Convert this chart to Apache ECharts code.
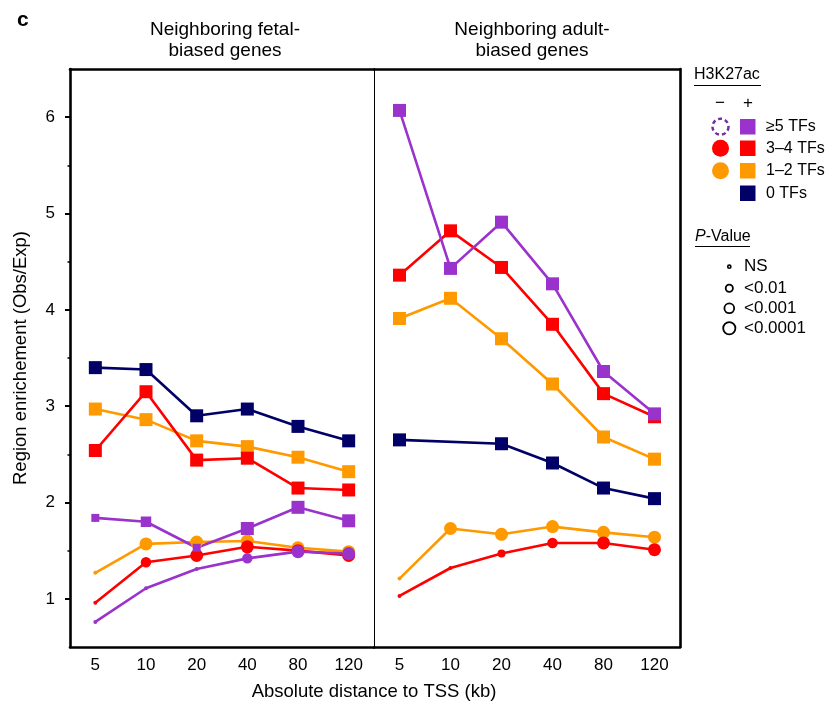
<!DOCTYPE html>
<html>
<head>
<meta charset="utf-8">
<script src="https://cdn.jsdelivr.net/npm/echarts@6/dist/echarts.min.js"></script>
<style>html,body{margin:0;padding:0;background:#fff;}#c{width:835px;height:705px;}</style>
</head>
<body>
<div id="c"></div>
<script>
// ---- data ----
const categories = ['5', '10', '20', '40', '80', '120'];
const yTickValues = [1, 2, 3, 4, 5, 6];
const yMinorTickValues = [1.5, 2.5, 3.5, 4.5, 5.5];

// Neighboring fetal-biased genes
const fetalPlus0 = [3.40, 3.38, 2.90, 2.97, 2.79, 2.64];
const fetalPlus12 = [2.97, 2.86, 2.64, 2.58, 2.47, 2.32];
const fetalPlus34 = [2.54, 3.15, 2.44, 2.46, 2.15, 2.13];
const fetalPlus5 = [1.84, 1.80, 1.53, 1.73, 1.95, 1.81];
const fetalMinus12 = [1.27, 1.57, 1.59, 1.60, 1.53, 1.49];
const fetalMinus34 = [0.96, 1.38, 1.45, 1.54, 1.50, 1.45];
const fetalMinus5 = [0.76, 1.11, 1.31, 1.42, 1.49, 1.47];

// Neighboring adult-biased genes
const adultPlus0 = [2.65, null, 2.61, 2.41, 2.15, 2.04];
const adultPlus12 = [3.91, 4.12, 3.70, 3.23, 2.68, 2.45];
const adultPlus34 = [4.36, 4.82, 4.44, 3.85, 3.13, 2.89];
const adultPlus5 = [6.07, 4.43, 4.91, 4.27, 3.36, 2.92];
const adultMinus12 = [1.21, 1.73, 1.67, 1.75, 1.69, 1.64];
const adultMinus34 = [1.03, 1.32, 1.47, 1.58, 1.58, 1.51];

// P-value class per point: 0 = NS, 1 = <0.01, 2 = <0.001, 3 = <0.0001
const pAll = [3, 3, 3, 3, 3, 3];
const fetalPlus5P = [1, 2, 1, 3, 3, 3];
const fetalMinus12P = [0, 3, 3, 3, 3, 3];
const fetalMinus34P = [0, 2, 3, 3, 3, 3];
const fetalMinus5P = [0, 0, 0, 2, 3, 3];
const adultMinus12P = [0, 3, 3, 3, 3, 3];
const adultMinus34P = [0, 0, 1, 2, 3, 3];

const pLabels = ['NS', '<0.01', '<0.001', '<0.0001'];
const tfLabels = ['≥5 TFs', '3–4 TFs', '1–2 TFs', '0 TFs'];

// ---- styles ----
const FONT = 'Liberation Sans, Arial, Helvetica, sans-serif';
const C_PURPLE = '#9933CC', C_RED = '#FF0000', C_ORANGE = '#FF9900', C_NAVY = '#000066';
const markerSize = [4, 8, 10.5, 13];

function mk(name, vals, pcls, color, symbol, panel) {
  return {
    name: name, type: 'line',
    xAxisIndex: panel === 0 ? 0 : 2,
    yAxisIndex: panel === 0 ? 0 : 2,
    data: vals,
    connectNulls: true,
    symbol: symbol,
    symbolSize: function (v, p) { return markerSize[pcls[p.dataIndex]]; },
    showAllSymbol: true,
    lineStyle: { color: color, width: 2.6 },
    itemStyle: { color: color, borderWidth: 0 },
    emphasis: { disabled: true },
    animation: false
  };
}

const series = [
  mk('fetal − 1–2', fetalMinus12, fetalMinus12P, C_ORANGE, 'circle', 0),
  mk('fetal − 3–4', fetalMinus34, fetalMinus34P, C_RED, 'circle', 0),
  mk('fetal − ≥5', fetalMinus5, fetalMinus5P, C_PURPLE, 'circle', 0),
  mk('fetal + 0', fetalPlus0, pAll, C_NAVY, 'rect', 0),
  mk('fetal + 1–2', fetalPlus12, pAll, C_ORANGE, 'rect', 0),
  mk('fetal + 3–4', fetalPlus34, pAll, C_RED, 'rect', 0),
  mk('fetal + ≥5', fetalPlus5, fetalPlus5P, C_PURPLE, 'rect', 0),
  mk('adult − 1–2', adultMinus12, adultMinus12P, C_ORANGE, 'circle', 1),
  mk('adult − 3–4', adultMinus34, adultMinus34P, C_RED, 'circle', 1),
  mk('adult + 0', adultPlus0, pAll, C_NAVY, 'rect', 1),
  mk('adult + 1–2', adultPlus12, pAll, C_ORANGE, 'rect', 1),
  mk('adult + 3–4', adultPlus34, pAll, C_RED, 'rect', 1),
  mk('adult + ≥5', adultPlus5, pAll, C_PURPLE, 'rect', 1)
];

const thick = { show: true, lineStyle: { color: '#000', width: 2.6 } };
function xAx(grid, pos, labels) {
  return {
    gridIndex: grid, type: 'category', data: categories, position: pos,
    boundaryGap: true,
    axisLine: thick, axisTick: { show: false },
    axisLabel: { show: labels, color: '#000', fontSize: 17, fontFamily: FONT, margin: 10 },
    splitLine: { show: false }
  };
}

const yBase = { min: 0.5, max: 6.5, interval: 0.5, splitLine: { show: false } };

const option = {
  backgroundColor: '#fff',
  animation: false,
  grid: [
    { left: 70, top: 69, width: 304, height: 578 },
    { left: 374, top: 69, width: 306, height: 578 }
  ],
  title: [
    { text: 'c', left: 12, top: 5, textStyle: { fontSize: 21, fontWeight: 'bold', color: '#000', fontFamily: FONT } },
    { text: 'Neighboring fetal-\nbiased genes', left: 220, top: 14, textAlign: 'center',
      textStyle: { fontSize: 19, fontWeight: 'normal', color: '#000', fontFamily: FONT, lineHeight: 21, align: 'center' } },
    { text: 'Neighboring adult-\nbiased genes', left: 527, top: 14, textAlign: 'center',
      textStyle: { fontSize: 19, fontWeight: 'normal', color: '#000', fontFamily: FONT, lineHeight: 21, align: 'center' } }
  ],
  xAxis: [xAx(0, 'bottom', true), xAx(0, 'top', false), xAx(1, 'bottom', true), xAx(1, 'top', false)],
  yAxis: [
    Object.assign({}, yBase, {
      gridIndex: 0, position: 'left',
      axisLine: thick,
      axisTick: { show: true, length: 5, customValues: yTickValues, lineStyle: { color: '#000', width: 2 } },
      axisLabel: { show: true, customValues: yTickValues, color: '#000', fontSize: 17, fontFamily: FONT, margin: 15 },
      name: 'Region enrichement (Obs/Exp)', nameLocation: 'middle', nameGap: 40, nameRotate: 90,
      nameTextStyle: { fontSize: 18.5, color: '#000', fontFamily: FONT }
    }),
    Object.assign({}, yBase, {
      gridIndex: 0, position: 'left',
      axisLine: { show: false },
      axisTick: { show: true, length: 2.5, customValues: yMinorTickValues, lineStyle: { color: '#000', width: 1.5 } },
      axisLabel: { show: false }
    }),
    Object.assign({}, yBase, {
      gridIndex: 1, position: 'left',
      axisLine: { show: true, lineStyle: { color: '#000', width: 1 } },
      axisTick: { show: false }, axisLabel: { show: false }
    }),
    Object.assign({}, yBase, {
      gridIndex: 1, position: 'right',
      axisLine: thick, axisTick: { show: false }, axisLabel: { show: false }
    })
  ],
  series: series,
  graphic: [
    { type: 'text', x: 374, y: 692, style: { text: 'Absolute distance to TSS (kb)', fill: '#000', font: '18.5px ' + FONT, align: 'center', verticalAlign: 'middle' } },
    // H3K27ac legend
    { type: 'text', x: 694, y: 74.5, style: { text: 'H3K27ac', fill: '#000', font: '16px ' + FONT, verticalAlign: 'middle' } },
    { type: 'line', shape: { x1: 694, y1: 85.5, x2: 761, y2: 85.5 }, style: { stroke: '#000', lineWidth: 1 } },
    { type: 'text', x: 720, y: 103, style: { text: '−', fill: '#000', font: '17px ' + FONT, align: 'center', verticalAlign: 'middle' } },
    { type: 'text', x: 748, y: 103, style: { text: '+', fill: '#000', font: '17px ' + FONT, align: 'center', verticalAlign: 'middle' } },
    { type: 'circle', shape: { cx: 720.5, cy: 126.7, r: 8 }, style: { fill: 'none', stroke: '#7030A0', lineWidth: 2.5, lineDash: [4, 3] } },
    { type: 'rect', shape: { x: 740, y: 119, width: 15.5, height: 15.5 }, style: { fill: C_PURPLE } },
    { type: 'text', x: 766, y: 126.7, style: { text: tfLabels[0], fill: '#000', font: '16px ' + FONT, verticalAlign: 'middle' } },
    { type: 'circle', shape: { cx: 720.5, cy: 148.3, r: 8.5 }, style: { fill: C_RED } },
    { type: 'rect', shape: { x: 740, y: 140.5, width: 15.5, height: 15.5 }, style: { fill: C_RED } },
    { type: 'text', x: 766, y: 148.3, style: { text: tfLabels[1], fill: '#000', font: '16px ' + FONT, verticalAlign: 'middle' } },
    { type: 'circle', shape: { cx: 720.5, cy: 170.7, r: 8.5 }, style: { fill: C_ORANGE } },
    { type: 'rect', shape: { x: 740, y: 163, width: 15.5, height: 15.5 }, style: { fill: C_ORANGE } },
    { type: 'text', x: 766, y: 170.7, style: { text: tfLabels[2], fill: '#000', font: '16px ' + FONT, verticalAlign: 'middle' } },
    { type: 'rect', shape: { x: 740, y: 185.5, width: 15.5, height: 15.5 }, style: { fill: C_NAVY } },
    { type: 'text', x: 766, y: 193.3, style: { text: tfLabels[3], fill: '#000', font: '16px ' + FONT, verticalAlign: 'middle' } },
    // P-value legend
    { type: 'text', x: 695, y: 237, style: { rich: { i: { fontStyle: 'italic', fontSize: 16, fontFamily: FONT, fill: '#000' }, n: { fontSize: 16, fontFamily: FONT, fill: '#000' } }, text: '{i|P}{n|-Value}', verticalAlign: 'middle' } },
    { type: 'line', shape: { x1: 695, y1: 246.5, x2: 750, y2: 246.5 }, style: { stroke: '#000', lineWidth: 1 } },
    { type: 'circle', shape: { cx: 729.3, cy: 266.7, r: 1.6 }, style: { fill: 'none', stroke: '#000', lineWidth: 1.6 } },
    { type: 'circle', shape: { cx: 729.3, cy: 288.3, r: 3.6 }, style: { fill: 'none', stroke: '#000', lineWidth: 1.8 } },
    { type: 'circle', shape: { cx: 729.3, cy: 308.3, r: 4.9 }, style: { fill: 'none', stroke: '#000', lineWidth: 1.8 } },
    { type: 'circle', shape: { cx: 729.3, cy: 328.3, r: 6.1 }, style: { fill: 'none', stroke: '#000', lineWidth: 1.8 } },
    { type: 'text', x: 744, y: 266.7, style: { text: pLabels[0], fill: '#000', font: '17px ' + FONT, verticalAlign: 'middle' } },
    { type: 'text', x: 744, y: 288.3, style: { text: pLabels[1], fill: '#000', font: '17px ' + FONT, verticalAlign: 'middle' } },
    { type: 'text', x: 744, y: 308.3, style: { text: pLabels[2], fill: '#000', font: '17px ' + FONT, verticalAlign: 'middle' } },
    { type: 'text', x: 744, y: 328.3, style: { text: pLabels[3], fill: '#000', font: '17px ' + FONT, verticalAlign: 'middle' } }
  ]
};

const chart = echarts.init(document.getElementById('c'), null, { renderer: 'canvas' });
chart.setOption(option);
</script>
</body>
</html>
